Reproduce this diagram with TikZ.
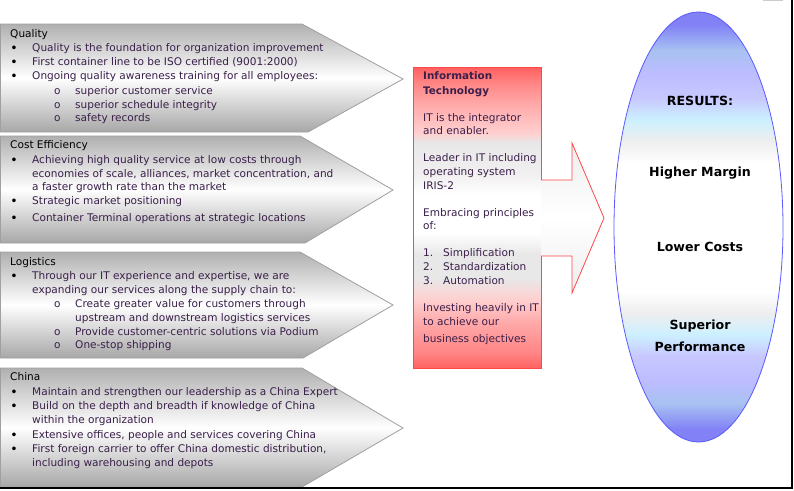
\documentclass[tikz,border=0pt]{standalone}
\usepackage{fontspec}
\setmainfont{DejaVu Sans}
\definecolor{txtc}{HTML}{3A1F4A}
\definecolor{pgray}{HTML}{A0A0A0}
\definecolor{pdark}{HTML}{B0B0B0}
\definecolor{redb}{HTML}{FF4848}
\definecolor{blueb}{HTML}{5A5AFF}
\definecolor{e1}{HTML}{8282F6}
\definecolor{e2}{HTML}{A8C2F2}
\definecolor{e3}{HTML}{BCBCFF}
\definecolor{e4}{HTML}{C8C8FF}
\definecolor{e5}{HTML}{CCF0FF}
\definecolor{e6}{HTML}{EEEEEE}
\definecolor{r1}{HTML}{FF6060}
\definecolor{r2}{HTML}{FF8484}
\definecolor{r3}{HTML}{FFA8A8}
\definecolor{r4}{HTML}{FFD0D0}
\definecolor{r5}{HTML}{F2F0F0}
\definecolor{r6}{HTML}{E8E8E8}
\pgfdeclareverticalshading{ellshade}{100bp}{color(0bp)=(e1); color(25bp)=(e1); color(26.5bp)=(e1); color(29.5bp)=(e2); color(32bp)=(e3); color(35bp)=(e4); color(37.5bp)=(e5); color(40bp)=(e6); color(42.5bp)=(white); color(57.5bp)=(white); color(60bp)=(e6); color(62.5bp)=(e5); color(65bp)=(e4); color(68bp)=(e3); color(70.5bp)=(e2); color(73.5bp)=(e1); color(75bp)=(e1); color(100bp)=(e1)}
\pgfdeclareverticalshading{redshade}{100bp}{color(0bp)=(r1); color(25bp)=(r1); color(27.5bp)=(r2); color(32.5bp)=(r3); color(36.5bp)=(r4); color(40bp)=(r6); color(44bp)=(r6); color(47.5bp)=(white); color(54bp)=(white); color(57bp)=(r5); color(62.5bp)=(r6); color(64bp)=(r4); color(69bp)=(r3); color(72.5bp)=(r2); color(75bp)=(r1); color(100bp)=(r1)}
\tikzset{
  pent/.style={draw=pgray, line width=0.8pt, top color=pdark, bottom color=pdark!95!black, middle color=white},
  t/.style={anchor=west, inner sep=0pt, text=txtc, font=\fontsize{10.55}{12}\selectfont, text height=7.5pt, text depth=2.2pt},
  ttl/.style={t, text=black},
  bul/.style={inner sep=0pt, text=black, font=\fontsize{12.5}{12}\selectfont},
  res/.style={inner sep=0pt, font=\bfseries\fontsize{12.6}{14}\selectfont, text=black, text height=9pt, text depth=2.6pt}
}
\begin{document}
\begin{tikzpicture}[x=1pt,y=-1pt]
\useasboundingbox (0,0) rectangle (794,490);
\fill[white] (0,0) rectangle (794,490);
% pentagons
\path[pent] (0.5,24) -- (302,24) -- (403,79) -- (308,132) -- (0.5,132) -- cycle;
\path[pent] (0.5,136) -- (300,136) -- (393,190) -- (305,243) -- (0.5,243) -- cycle;
\path[pent] (0.5,252) -- (300,252) -- (393,305) -- (303,358) -- (0.5,358) -- cycle;
\path[pent] (0.5,368) -- (302,368) -- (403,428) -- (302,487) -- (0.5,487) -- cycle;
% Quality
\node[ttl] (qt) at (10,35) {Quality};
\node[bul] (qb1) at (14,49) {•};
\node[t] (q1) at (32,49) {Quality is the foundation for organization improvement};
\node[bul] (qb2) at (14,63) {•};
\node[t] (q2) at (32,63) {First container line to be ISO certified (9001:2000)};
\node[bul] (qb3) at (14,77) {•};
\node[t] (q3) at (32,77) {Ongoing quality awareness training for all employees:};
\node[t] (qo1) at (54,92) {o};
\node[t] (q4) at (75,92) {superior customer service};
\node[t] (qo2) at (54,106) {o};
\node[t] (q5) at (75,106) {superior schedule integrity};
\node[t] (qo3) at (54,119) {o};
\node[t] (q6) at (75,119) {safety records};
% Cost
\node[ttl] (ct) at (10,146) {Cost Efficiency};
\node[bul] (cb1) at (14,161) {•};
\node[t] (c1) at (32,161) {Achieving high quality service at low costs through};
\node[t] (c2) at (32,175) {economies of scale, alliances, market concentration, and};
\node[t] (c3) at (32,188) {a faster growth rate than the market};
\node[bul] (cb2) at (14,202) {•};
\node[t] (c4) at (32,202) {Strategic market positioning};
\node[bul] (cb3) at (14,219) {•};
\node[t] (c5) at (32,219) {Container Terminal operations at strategic locations};
% Logistics
\node[ttl] (lt) at (10,263) {Logistics};
\node[bul] (lb1) at (14,277) {•};
\node[t] (l1) at (32,277) {Through our IT experience and expertise, we are};
\node[t] (l2) at (32,291) {expanding our services along the supply chain to:};
\node[t] (lo1) at (54,305) {o};
\node[t] (l3) at (75,305) {Create greater value for customers through};
\node[t] (l4) at (75,319) {upstream and downstream logistics services};
\node[t] (lo2) at (54,333) {o};
\node[t] (l5) at (75,333) {Provide customer-centric solutions via Podium};
\node[t] (lo3) at (54,346) {o};
\node[t] (l6) at (75,346) {One-stop shipping};
% China
\node[ttl] (cht) at (10,378) {China};
\node[bul] (hb1) at (14,393) {•};
\node[t] (h1) at (32,393) {Maintain and strengthen our leadership as a China Expert};
\node[bul] (hb2) at (14,407) {•};
\node[t] (h2) at (32,407) {Build on the depth and breadth if knowledge of China};
\node[t] (h3) at (32,421) {within the organization};
\node[bul] (hb3) at (14,436) {•};
\node[t] (h4) at (32,436) {Extensive offices, people and services covering China};
\node[bul] (hb4) at (14,450) {•};
\node[t] (h5) at (32,450) {First foreign carrier to offer China domestic distribution,};
\node[t] (h6) at (32,464) {including warehousing and depots};
% IT box
\node[draw=redb, line width=0.8pt, shading=redshade, minimum width=128pt, minimum height=301pt, inner sep=0pt, anchor=north west] (itbox) at (413,67) {};
% big arrow
\coordinate (a1) at (541,180);
\coordinate (a2) at (572,180);
\coordinate (a3) at (572,143);
\coordinate (a4) at (604,218);
\coordinate (a5) at (572,293);
\coordinate (a6) at (572,256);
\coordinate (a7) at (541,256);
\path[top color=gray!14, bottom color=gray!14, middle color=white] (a1) -- (a2) -- (a3) -- (a4) -- (a5) -- (a6) -- (a7) -- cycle;
\draw[redb, line width=0.8pt, line join=miter] (a1) -- (a2) -- (a3) -- (a4) -- (a5) -- (a6) -- (a7);
% IT text
\node[ttl, font=\bfseries\fontsize{10.4}{12}\selectfont, text=txtc] (it1) at (423,77) {Information};
\node[ttl, font=\bfseries\fontsize{10.4}{12}\selectfont, text=txtc] (it2) at (423,92) {Technology};
\node[t] (it3) at (423,119) {IT is the integrator};
\node[t] (it4) at (423,132) {and enabler.};
\node[t] (it5) at (423,159) {Leader in IT including};
\node[t] (it6) at (423,173) {operating system};
\node[t] (it7) at (423,187) {IRIS-2};
\node[t] (it8) at (423,214) {Embracing principles};
\node[t] (it9) at (423,227) {of:};
\node[t] (in1) at (423,254) {1.};
\node[t] (it10) at (443,254) {Simplification};
\node[t] (in2) at (423,268) {2.};
\node[t] (it11) at (443,268) {Standardization};
\node[t] (in3) at (423,282) {3.};
\node[t] (it12) at (443,282) {Automation};
\node[t] (it13) at (423,309) {Investing heavily in IT};
\node[t] (it14) at (423,323) {to achieve our};
\node[t] (it15) at (423,340) {business objectives};
% ellipse
\path[draw=blueb, line width=0.8pt, shading=ellshade] (698.5,227) ellipse [x radius=84.5, y radius=215];
\node[res] (r1) at (700,102) {RESULTS:};
\node[res] (r2) at (700,173) {Higher Margin};
\node[res] (r3) at (700,248) {Lower Costs};
\node[res] (r4) at (700,326) {Superior};
\node[res] (r5) at (700,348) {Performance};
% frame
\draw[black, line width=1.5pt] (0,488.2) -- (792.2,488.2) -- (792.2,0);
\draw[gray!40, line width=1pt] (763,0.5) -- (783,0.5);
\end{tikzpicture}
\end{document}
